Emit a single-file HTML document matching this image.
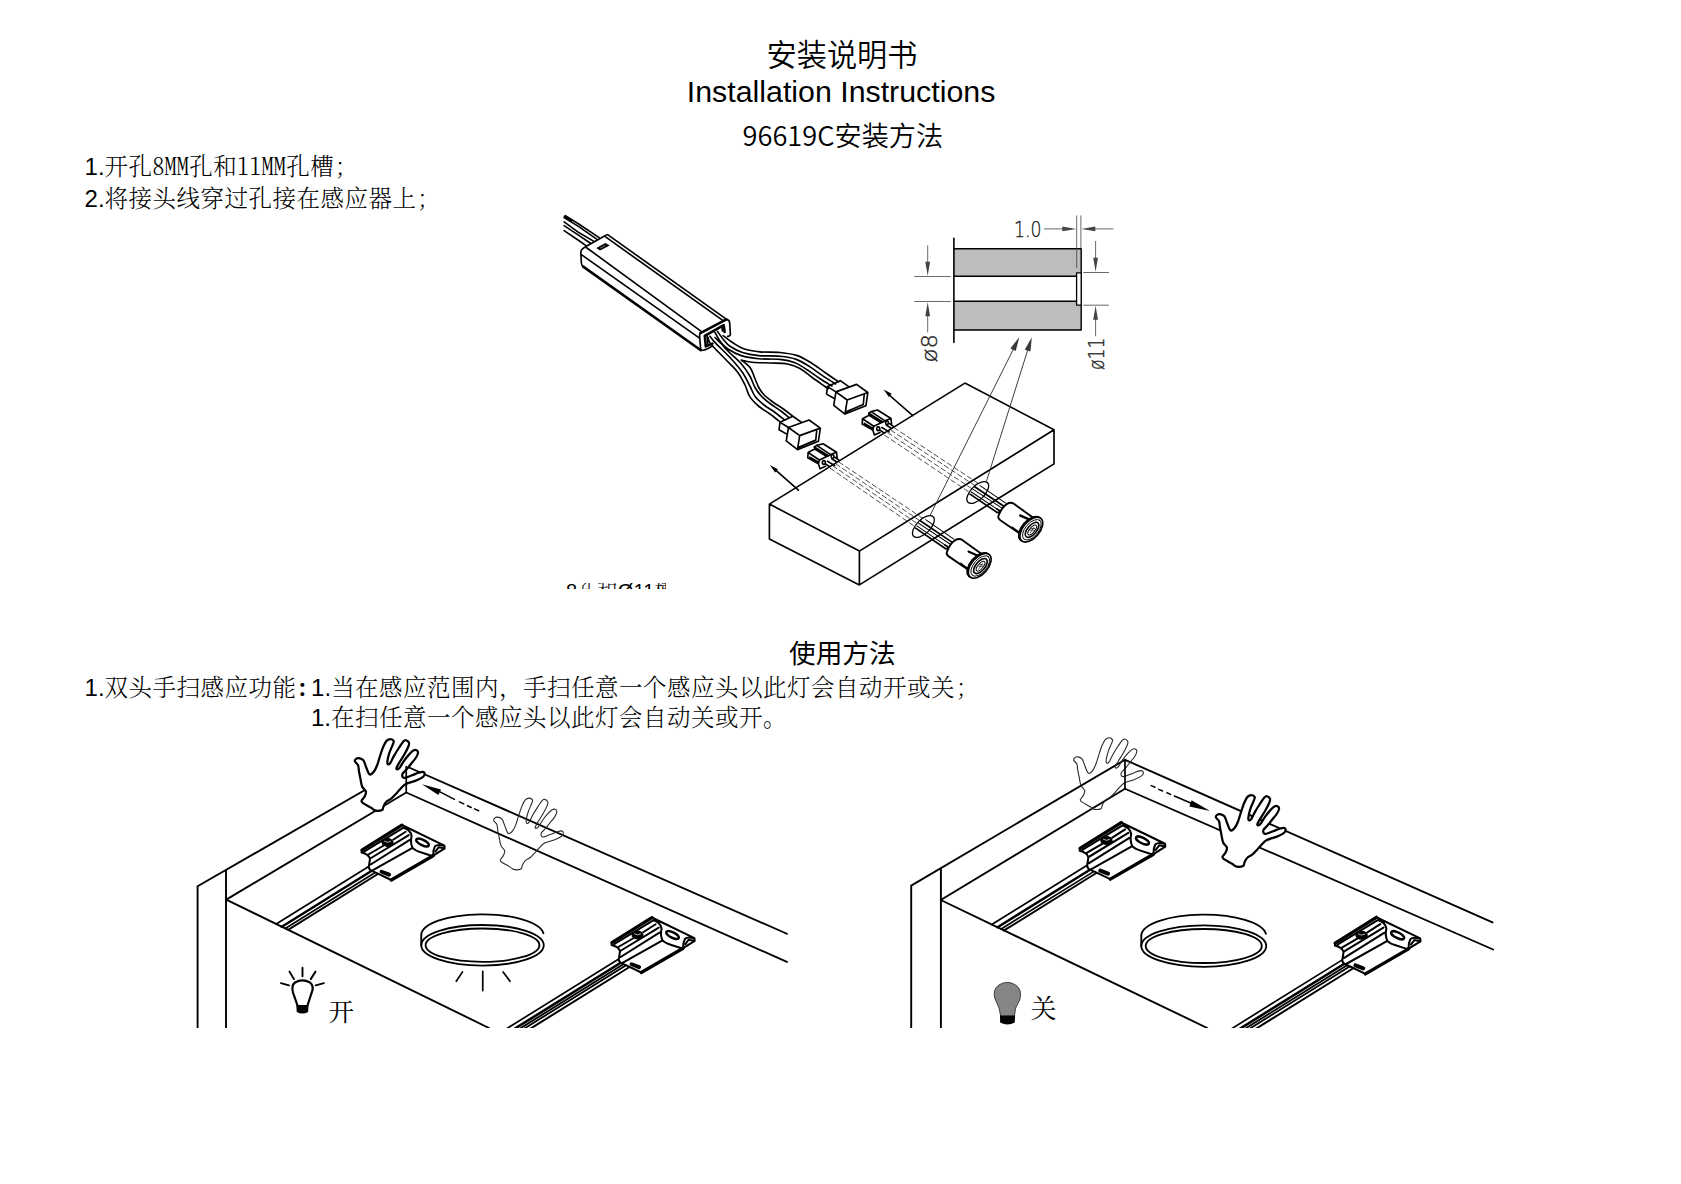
<!DOCTYPE html>
<html lang="zh-CN">
<head>
<meta charset="utf-8">
<title>安装说明书 Installation Instructions</title>
<style>
html,body{margin:0;padding:0;background:#fff;}
body{width:1681px;height:1184px;position:relative;overflow:hidden;color:#000;}
.t{position:absolute;white-space:nowrap;line-height:1;margin:0;}
.hei{font-family:"Liberation Sans","Noto Sans CJK SC",sans-serif;font-weight:300;}
.song{font-family:"Liberation Serif","Noto Serif CJK SC",serif;font-weight:300;}
.body{font-size:23.5px;letter-spacing:0.5px;}
.body .ar{letter-spacing:0;font-size:24px;font-weight:400;}
.ar{font-family:"Liberation Sans","Noto Sans CJK SC",sans-serif;}
.hw{font-family:"Noto Serif CJK SC",serif;font-feature-settings:"hwid";font-weight:300;}
svg{position:absolute;left:0;top:0;}
</style>
</head>
<body>
<div class="t hei" id="t1" style="left:766.5px;top:40.5px;font-size:30.2px;font-weight:350;">安装说明书</div>
<div class="t ar" id="t2" style="left:686.8px;top:76.5px;font-size:30.33px;">Installation Instructions</div>
<div class="t hei" id="t3" style="left:742.6px;top:120.6px;font-size:27.2px;font-weight:350;font-family:'Noto Sans CJK SC',sans-serif;">96619C安装方法</div>
<div class="t song body" id="t4" style="left:84.6px;top:154px;"><span class="ar">1.</span>开孔<span class="hw">8MM</span>孔和<span class="hw">11MM</span>孔槽<span class="hw">;</span></div>
<div class="t song body" id="t5" style="left:84.6px;top:185.6px;"><span class="ar">2.</span>将接头线穿过孔接在感应器上<span class="hw">;</span></div>
<div class="t hei" id="t6" style="left:789px;top:641px;font-size:26.67px;font-weight:400;">使用方法</div>
<div class="t song body" id="t7" style="left:84.6px;top:675px;"><span class="ar">1.</span>双头手扫感应功能<span class="hw" style="margin-right:2.25px;font-weight:700;">:</span><span class="ar">1.</span>当在感应范围内，手扫任意一个感应头以此灯会自动开或关<span class="hw">;</span></div>
<div class="t song body" id="t8" style="left:311px;top:706px;"><span class="ar">1.</span>在扫任意一个感应头以此灯会自动关或开。</div>
<div id="t9" style="position:absolute;left:553.5px;top:583.4px;width:112px;height:5.8px;overflow:hidden;"><div class="t" style="left:0;top:-2.2px;font-size:20px;letter-spacing:0.2px;"><span class="ar" style="position:relative;top:1.6px;">ø</span><span class="ar">8</span><span class="song">孔和</span><span class="ar">Ø11</span><span class="song">槽</span></div></div>
<svg id="art" width="1681" height="1184" viewBox="0 0 1681 1184" fill="none" stroke="#000" stroke-linecap="round" stroke-linejoin="round">
<g id="fig1">
<path d="M607.6,234.6 L726.25,319.1 M605.6,236.9 L723.8,321.2 M585.4,246.7 L604.6,236 Q606.4,234.2 608.2,235 M585.4,246.7 Q581,249.2 580.8,252.2 L581.4,263.2 Q581.6,265.6 583.6,266.9 M585.6,247 L701.2,331.3 M581,254.4 L698.8,337.6 M726.4,319.4 Q729.4,319.8 729.6,322.4 L730.4,334.4 Q730.4,336 727.6,336.4 M700.4,333.2 Q699.4,334.2 699.6,336.4 L700.6,348.4 Q701,350.6 703.4,350.2 Q707,349.6 712.6,345.8 M707.2,336.4 L707.8,343.8 M722,327.4 L722.4,331 M565.38,215.62 L579.12,224.25 L599.12,237.62 M564.12,217.5 L579.12,226.88 L596.62,239.06 M564.12,221.88 L579.12,232.81 L593.5,241.12 M564.12,225.62 L579.12,235.62 L590.06,243 M564.12,230.62 L579.12,240.75 L586,245.62 M564.44,216.25 L571.62,220.62 M723.12,335.62 C724.68,336.77 729.06,340.31 732.5,342.5 C735.94,344.69 739.17,347.19 743.75,348.75 C748.33,350.31 753.96,351.25 760,351.88 C766.04,352.5 773.75,351.88 780,352.5 C786.25,353.12 792.08,353.75 797.5,355.62 C802.92,357.5 807.92,360.94 812.5,363.75 C817.08,366.56 820.62,369.48 825,372.5 C829.38,375.52 836.46,380.32 838.75,381.88 M717.5,331.5 C718.54,332.92 721.67,337.54 723.75,340 C725.83,342.46 726.88,344.17 730,346.25 C733.12,348.33 737.71,350.94 742.5,352.5 C747.29,354.06 752.5,355 758.75,355.62 C765,356.25 773.75,355.62 780,356.25 C786.25,356.88 791.25,357.61 796.25,359.38 C801.25,361.15 805.62,364.17 810,366.88 C814.38,369.59 818.23,372.77 822.5,375.62 C826.77,378.47 833.43,382.6 835.62,384 M715,332.5 C715.94,334.06 718.54,339.17 720.62,341.88 C722.7,344.59 724.06,346.46 727.5,348.75 C730.94,351.04 736.04,353.95 741.25,355.62 C746.46,357.29 752.29,358.12 758.75,358.75 C765.21,359.38 773.96,358.71 780,359.38 C786.04,360.05 790.42,360.98 795,362.75 C799.58,364.52 803.33,367.33 807.5,370 C811.67,372.67 815.94,376.08 820,378.75 C824.06,381.42 829.9,384.79 831.88,386 M741.25,360 C743.12,360.38 747.71,361.75 752.5,362.25 C757.29,362.75 764.17,362.71 770,363 C775.83,363.29 782.5,363.08 787.5,364 C792.5,364.92 795.83,366.21 800,368.5 C804.17,370.79 808.33,374.75 812.5,377.75 C816.67,380.75 822.4,384.67 825,386.5 C827.6,388.33 827.6,388.38 828.12,388.75 M708.12,337.5 C708.54,338.54 707.81,340.21 710.62,343.75 C713.43,347.29 720.52,354.06 725,358.75 C729.48,363.44 734.17,367.5 737.5,371.88 C740.83,376.25 742.92,380.83 745,385 C747.08,389.17 747.71,393.34 750,396.88 C752.29,400.42 755.42,403.4 758.75,406.25 C762.08,409.1 766.36,411.33 770,414 C773.64,416.67 778.85,420.88 780.62,422.25 M710,336.25 C710.94,337.39 712.29,339.58 715.62,343.12 C718.95,346.66 725.52,352.6 730,357.5 C734.48,362.4 739.17,367.71 742.5,372.5 C745.83,377.29 747.92,382.29 750,386.25 C752.08,390.21 752.71,393.17 755,396.25 C757.29,399.33 760.42,402.04 763.75,404.75 C767.08,407.46 771.46,409.92 775,412.5 C778.54,415.08 783.33,418.96 785,420.25 M715,337.5 C716.04,338.54 719.06,341.46 721.25,343.75 C723.44,346.04 724.79,347.92 728.12,351.25 C731.45,354.58 737.6,359.58 741.25,363.75 C744.9,367.92 747.71,372.29 750,376.25 C752.29,380.21 753.12,384.21 755,387.5 C756.88,390.79 758.75,393.33 761.25,396 C763.75,398.67 766.67,400.96 770,403.5 C773.33,406.04 778.08,408.92 781.25,411.25 C784.42,413.58 787.71,416.46 789,417.5 M741.25,360 C742.71,361.25 747.71,364.38 750,367.5 C752.29,370.62 753.54,375.42 755,378.75 C756.46,382.08 757.25,384.83 758.75,387.5 C760.25,390.17 761.71,392.38 764,394.75 C766.29,397.12 769.21,399.33 772.5,401.75 C775.79,404.17 780.42,406.88 783.75,409.25 C787.08,411.62 791.04,414.88 792.5,416 M788.44,427.5 L780,422.19 L792.81,416.25 L801.25,422.19 M780,422.19 L779.06,429.69 L787.19,434.38 M788.44,427.5 L809.06,420 L820.31,428.12 L799.69,435.62Z M788.44,427.5 L786.25,440.94 L797.5,449.69 L799.69,435.62 M820.31,428.12 L818.44,441.25 L797.5,449.69 M816.75,429.88 L815.75,440.12 L798.62,447.38 M835.94,391.9 L827.5,386.59 L840.31,380.65 L848.75,386.59 M827.5,386.59 L826.56,394.09 L834.69,398.78 M835.94,391.9 L856.56,384.4 L867.81,392.52 L847.19,400.02Z M835.94,391.9 L833.75,405.34 L845,414.09 L847.19,400.02 M867.81,392.52 L865.94,405.65 L845,414.09 M864.25,394.28 L863.25,404.52 L846.12,411.78 M862.5,418.75 L869.06,415.31 L881.25,422.81 L873.75,426.25Z M862.5,418.75 L862.19,424.06 L872.81,430 L873.75,426.25 M864.38,423.44 L872.5,428.12 M869.06,415.31 L868.75,413.12 L871.12,411.62 M871.12,411.62 L877.5,410 L890.94,418.44 L885,420.88 L871.12,411.62 M890.94,418.44 L891.56,424.06 M872.81,430 L874.38,435 L880,432.5 M873.75,426.25 L881.25,422.81 L884.38,421.25 M876.75,428.75 a1.5,1.9 0 1,0 3,0 a1.5,1.9 0 1,0 -3,0 M885.6,422.81 a1.4,1.8 0 1,0 2.8,0 a1.4,1.8 0 1,0 -2.8,0 M879.69,430 L884.38,433.12 M881.88,427.5 L889.06,431.88 M886.25,425 L891.56,428.44 M889.06,423.44 L894.06,426.88 M808.1,452.5 L814.66,449.06 L826.85,456.56 L819.35,460Z M808.1,452.5 L807.79,457.81 L818.41,463.75 L819.35,460 M809.98,457.19 L818.1,461.87 M814.66,449.06 L814.35,446.87 L816.72,445.37 M816.72,445.37 L823.1,443.75 L836.54,452.19 L830.6,454.63 L816.72,445.37 M836.54,452.19 L837.16,457.81 M818.41,463.75 L819.98,468.75 L825.6,466.25 M819.35,460 L826.85,456.56 L829.98,455 M822.35,462.5 a1.5,1.9 0 1,0 3,0 a1.5,1.9 0 1,0 -3,0 M831.2,456.56 a1.4,1.8 0 1,0 2.8,0 a1.4,1.8 0 1,0 -2.8,0 M825.29,463.75 L829.98,466.87 M827.48,461.25 L834.66,465.63 M831.85,458.75 L837.16,462.19 M834.66,457.19 L839.66,460.63 M769.4,504.1 L964.9,383.1 L1054,429.7 L859.4,551.1 L769.4,504.1 L769.4,538.9 L859.4,584.9 L859.4,551.1 M859.4,584.9 L1054,463.9 L1054,429.7 M912.8,415.6 L888,394 M798.4,490.2 L774,468.6" stroke-width="1.65"/>
<path d="M583.2,266.6 L700.8,350.2 M700.4,333.2 L726.4,319.4 M712.4,343.6 L705.8,346.4 L704.8,335.8 L723.7,325.2 L724.6,332" stroke-width="2.6"/>
<path d="M596.3,248.1 L605.4,243.1 L609.75,245.6 L600,250.6Z" fill="#000" stroke="none"/>
<path d="M600.5,248 L604.8,245.7" stroke="#fff" stroke-width="0.5"/>
<path d="M869.12,413.5 L882.25,421.88 M814.72,447.25 L827.85,455.63" stroke-width="2"/>
<path d="M883.60,389.40 L891.70,393.85 L888.90,396.97Z" fill="#000" stroke="none"/>
<path d="M769.80,465.00 L777.94,469.37 L775.16,472.53Z" fill="#000" stroke="none"/>
<path d="M838.75,461.9 L924.4,519.4 M835.6,463.75 L920.6,521.25 M832.5,465.6 L917.5,523.75 M830,468.1 L914.4,526.25 M893.75,427.5 L978.75,483.75 M890.6,430 L975,485.6 M887.5,432.5 L971.9,488.75 M884.4,435 L968.75,491.9" stroke="#222" stroke-width="0.8" stroke-dasharray="5.5 2.5" stroke-linecap="butt"/>
<path d="M1019.30,337.20 L1015.72,351.06 L1010.35,348.38Z" fill="#3a3a3a" stroke="none"/>
<path d="M1031.80,337.20 L1030.46,351.45 L1024.73,349.65Z" fill="#3a3a3a" stroke="none"/>
<ellipse cx="923.4" cy="526.5" rx="13.8" ry="6.85" transform="rotate(-45 923.4 526.5)" stroke-width="1.3"/>
<path d="M945,545 L948.12,547 L946.88,548.75 M976.88,555 L980.62,557.19" stroke-width="1.65"/>
<path d="M980.94,553.44 L961.88,539.69 Q958.88,538 955,540.31 Q949.69,544.06 947,551.56 Q945.75,554.5 948.75,556.38 L968.12,569.69 M968.44,551.38 L976.88,555 M968.75,552 L976.88,555.5 M960.62,563.62 L968.12,569.06 M960.94,564.25 L967.81,569.38" stroke-width="1.9"/>
<path d="M925.62,519.69 L953.75,539.06" stroke-width="1.05"/>
<path d="M920.62,520.94 L951.56,541.88" stroke-width="1.7"/>
<path d="M918.44,523.12 L950,544.06" stroke-width="1.05"/>
<path d="M916.88,525.94 L945.94,545.62" stroke-width="1.05"/>
<path d="M915.62,528.12 L945.62,548.75" stroke-width="1.7"/>
<g transform="translate(979.72 565.81) rotate(-49.5)"><ellipse cx="-0.3" cy="-1.4" rx="14.6" ry="8.1" fill="#fff" stroke-width="1.7"/><ellipse cx="0" cy="0" rx="14.7" ry="8.2" fill="#fff" stroke-width="1.7"/><ellipse cx="0.3" cy="0.5" rx="12.3" ry="6.5" stroke-width="0.9"/><ellipse cx="0.3" cy="0.7" rx="9.1" ry="4.5" stroke-width="1.6"/><ellipse cx="0.3" cy="0.9" rx="6" ry="2.5" stroke-width="1"/><path d="M-3.2,1.3 L3.4,0.5 M-1,-0.4 L1.4,2.4 M1,-0.6 L3,1.8" stroke-width="0.6"/></g>
<ellipse cx="977.75" cy="492.5" rx="13.8" ry="6.85" transform="rotate(-45 977.75 492.5)" stroke-width="1.3"/>
<path d="M996.6,508.8 L999.72,510.8 L998.48,512.55 M1028.48,518.8 L1032.22,520.99" stroke-width="1.65"/>
<path d="M1032.54,517.24 L1013.48,503.49 Q1010.48,501.8 1006.6,504.11 Q1001.29,507.86 998.6,515.36 Q997.35,518.3 1000.35,520.18 L1019.72,533.49 M1020.04,515.18 L1028.48,518.8 M1020.35,515.8 L1028.48,519.3 M1012.22,527.42 L1019.72,532.86 M1012.54,528.05 L1019.41,533.18" stroke-width="1.9"/>
<path d="M980.02,485.69 L1005.35,502.86" stroke-width="1.05"/>
<path d="M975.02,486.94 L1003.16,505.68" stroke-width="1.7"/>
<path d="M972.84,489.12 L1001.6,507.86" stroke-width="1.05"/>
<path d="M971.28,491.94 L997.54,509.42" stroke-width="1.05"/>
<path d="M970.02,494.12 L997.22,512.55" stroke-width="1.7"/>
<g transform="translate(1031.32 529.61) rotate(-49.5)"><ellipse cx="-0.3" cy="-1.4" rx="14.6" ry="8.1" fill="#fff" stroke-width="1.7"/><ellipse cx="0" cy="0" rx="14.7" ry="8.2" fill="#fff" stroke-width="1.7"/><ellipse cx="0.3" cy="0.5" rx="12.3" ry="6.5" stroke-width="0.9"/><ellipse cx="0.3" cy="0.7" rx="9.1" ry="4.5" stroke-width="1.6"/><ellipse cx="0.3" cy="0.9" rx="6" ry="2.5" stroke-width="1"/><path d="M-3.2,1.3 L3.4,0.5 M-1,-0.4 L1.4,2.4 M1,-0.6 L3,1.8" stroke-width="0.6"/></g>
<path d="M930,515.6 L1015,346 M986.25,481.9 L1029,346" stroke="#333" stroke-width="0.95"/>
<rect x="953.9" y="248.7" width="127.4" height="27.5" fill="#bdbdbd" stroke="none"/>
<rect x="953.9" y="301.3" width="127.4" height="28.7" fill="#bdbdbd" stroke="none"/>
<path d="M953.9,238.4 V342.4" stroke-width="1.6"/>
<path d="M954,248.8 H1081.2 V330 H954 M954,276.2 H1076.6 M954,301.2 H1076.6" stroke-width="1.4" stroke-linecap="butt"/>
<rect x="1076.6" y="272.9" width="4.6" height="32.2" fill="#fff" stroke-width="1.3"/>
<path d="M1076.7,215.4 V268 M1080.9,215.4 V248 M1044,228.9 H1068 M1113.5,228.9 H1090 M914.3,276.5 H950.8 M914.3,301.5 H950.8 M927.7,245.3 V266 M927.7,332.4 V311 M1083.2,272.5 H1109 M1083.2,305.2 H1109 M1095.6,241 V262 M1095.6,336.2 V315" stroke="#444" stroke-width="0.8" stroke-linecap="butt"/>
<path d="M1076.30,228.90 L1062.30,231.30 L1062.30,226.50Z" fill="#444" stroke="none"/>
<path d="M1081.30,228.90 L1095.30,226.50 L1095.30,231.30Z" fill="#444" stroke="none"/>
<path d="M927.70,275.80 L925.30,261.80 L930.10,261.80Z" fill="#444" stroke="none"/>
<path d="M927.70,302.20 L930.10,316.20 L925.30,316.20Z" fill="#444" stroke="none"/>
<path d="M1095.60,271.80 L1093.20,257.80 L1098.00,257.80Z" fill="#444" stroke="none"/>
<path d="M1095.60,305.80 L1098.00,319.80 L1093.20,319.80Z" fill="#444" stroke="none"/>
<text x="1014" y="237.4" font-size="22" font-family="DejaVu Sans, Liberation Sans, sans-serif" font-weight="200" fill="#222" stroke="#222" stroke-width="0.35" textLength="27.5" lengthAdjust="spacingAndGlyphs">1.0</text>
<text transform="translate(936.6 362.4) rotate(-90)" font-size="22" font-family="DejaVu Sans, Liberation Sans, sans-serif" font-weight="200" fill="#222" stroke="#222" stroke-width="0.35" textLength="28.5" lengthAdjust="spacingAndGlyphs">ø8</text>
<text transform="translate(1104.4 370) rotate(-90)" font-size="22" font-family="DejaVu Sans, Liberation Sans, sans-serif" font-weight="200" fill="#222" stroke="#222" stroke-width="0.35" textLength="32.5" lengthAdjust="spacingAndGlyphs">ø11</text>
</g>
<defs><clipPath id="clipB"><rect x="0" y="700" width="1681" height="327.9"/></clipPath></defs>
<g id="fig2" clip-path="url(#clipB)">
<path d="M197.6,886.3 V1030 M226.0,870.4 V1030 M197.6,886.3 L406.25,766.25 M226.25,899.6 L406.25,792.5 M226.25,899.6 L489,1028 M406.25,766.25 L786.9,933.75 M406.25,792.5 L786.9,961.9" stroke-width="1.9"/>
<path d="M368.77,866.44 L276.21,924.01" stroke-width="1.7"/>
<path d="M375.02,868.75 L281.79,926.74" stroke-width="2.5"/>
<path d="M381.27,868.75 L285.29,928.45" stroke-width="1.6"/>
<path d="M386.27,868.75 L288.09,929.82" stroke-width="1.9"/>
<path d="M361.9,850 L401.9,825 L444.4,845.62 L444.71,848.44 L433.15,855.62 L391.27,880 L376.9,873.12 L371.27,870.62 L368.77,866.88 L370.02,858.75 L368.15,855 L361.59,852.5Z" fill="#fff" stroke="none"/>
<path d="M401.9,825 L444.4,845.62 L444.71,848.44 L433.15,855.62 M391.27,880 L376.9,873.12 M361.9,850 L361.59,852.5 Q368.46,854.06 370.02,858.75 L368.77,866.88 Q369.09,870 371.9,870.94 L376.9,873.12 M364.09,851.56 L403.15,827.81 M368.77,854.25 L383.77,845.5 M393.15,839.75 L405.65,831.75 M370.65,858.25 L408.77,835.12 M370.65,864.5 L409.4,840.12 M372.52,870.44 L412.52,847.94 M403.15,827.81 Q410.34,829.69 411.59,835.94 Q410.02,842.5 412.52,847.94 Q415.02,850.62 420.65,852.31 L430.65,855.5 L433.15,855.62 M433.15,855.62 Q432.84,850 435.02,846.25 Q437.52,843.88 444.4,845.94 M435.34,851.56 L438.77,847.19 L443.15,848.12" stroke-width="2.00"/>
<path d="M361.9,850.12 L401.9,825.12 M433.15,855.75 L391.27,880" stroke-width="3.30"/>
<ellipse cx="422.52" cy="842.5" rx="6.90" ry="2.70" transform="rotate(27 422.52 842.5)" stroke-width="2.40"/>
<ellipse cx="387.52" cy="842.5" rx="6.00" ry="4.40" fill="#000" stroke="none"/>
<path d="M384.52,841.30 q3.00,2.20 6.00,0.20" stroke="#fff" stroke-width="0.7"/>
<path d="M381.59,871.75 L389.09,874.62" stroke-width="4.00"/>
<path d="M618.77,958.94 L499.5,1033.13" stroke-width="1.7"/>
<path d="M623.15,961.25 L504.03,1035.34" stroke-width="2.6"/>
<path d="M628.15,961.25 L506.83,1036.71" stroke-width="1.8"/>
<path d="M632.52,961.25 L509.28,1037.91" stroke-width="1.8"/>
<path d="M638.77,961.25 L512.78,1039.62" stroke-width="2.0"/>
<path d="M611.9,942.5 L651.9,917.5 L694.4,938.12 L694.71,940.94 L683.15,948.12 L641.27,972.5 L626.9,965.62 L621.27,963.12 L618.77,959.38 L620.02,951.25 L618.15,947.5 L611.59,945Z" fill="#fff" stroke="none"/>
<path d="M651.9,917.5 L694.4,938.12 L694.71,940.94 L683.15,948.12 M641.27,972.5 L626.9,965.62 M611.9,942.5 L611.59,945 Q618.46,946.56 620.02,951.25 L618.77,959.38 Q619.09,962.5 621.9,963.44 L626.9,965.62 M614.09,944.06 L653.15,920.31 M618.77,946.75 L633.77,938 M643.15,932.25 L655.65,924.25 M620.65,950.75 L658.77,927.62 M620.65,957 L659.4,932.62 M622.52,962.94 L662.52,940.44 M653.15,920.31 Q660.34,922.19 661.59,928.44 Q660.02,935 662.52,940.44 Q665.02,943.12 670.65,944.81 L680.65,948 L683.15,948.12 M683.15,948.12 Q682.84,942.5 685.02,938.75 Q687.52,936.38 694.4,938.44 M685.34,944.06 L688.77,939.69 L693.15,940.62" stroke-width="2.00"/>
<path d="M611.9,942.62 L651.9,917.62 M683.15,948.25 L641.27,972.5" stroke-width="3.30"/>
<ellipse cx="672.52" cy="935.0" rx="6.90" ry="2.70" transform="rotate(27 672.52 935.0)" stroke-width="2.40"/>
<ellipse cx="637.52" cy="935.0" rx="6.00" ry="4.40" fill="#000" stroke="none"/>
<path d="M634.52,933.80 q3.00,2.20 6.00,0.20" stroke="#fff" stroke-width="0.7"/>
<path d="M631.59,964.25 L639.09,967.12" stroke-width="4.00"/>
<ellipse cx="482.5" cy="945.25" rx="61.25" ry="20.30" fill="#fff" stroke-width="1.85"/>
<ellipse cx="482.5" cy="945.15" rx="56.90" ry="16.70" stroke-width="1.85"/>
<path d="M421.25,945.25 V934.65 A61.25,20.90 0 0 1 543.45,933.25" stroke-width="1.85"/>
<path d="M911.2,885.6 V1030 M940.9,868.2 V1030 M911.2,885.6 L1125,759.8 M940.75,900 L1125,788.75 M940.75,900 L1207.3,1028 M1125,759.8 L1492.5,922.4 M1125,788.75 L1493.1,949.5" stroke-width="1.9"/>
<path d="M1087.13,865.18 L991.76,924.5" stroke-width="1.7"/>
<path d="M1093.57,867.56 L997.56,927.28" stroke-width="2.5"/>
<path d="M1100.01,867.56 L1001.19,929.02" stroke-width="1.6"/>
<path d="M1105.16,867.56 L1004.1,930.42" stroke-width="1.9"/>
<path d="M1080.05,848.25 L1121.25,822.5 L1165.03,843.74 L1165.35,846.64 L1153.44,854.04 L1110.31,879.15 L1095.5,872.07 L1089.71,869.49 L1087.13,865.63 L1088.42,857.26 L1086.49,853.4 L1079.73,850.83Z" fill="#fff" stroke="none"/>
<path d="M1121.25,822.5 L1165.03,843.74 L1165.35,846.64 L1153.44,854.04 M1110.31,879.15 L1095.5,872.07 M1080.05,848.25 L1079.73,850.83 Q1086.81,852.43 1088.42,857.26 L1087.13,865.63 Q1087.45,868.85 1090.35,869.82 L1095.5,872.07 M1082.3,849.86 L1122.54,825.4 M1087.13,852.63 L1102.58,843.62 M1112.24,837.69 L1125.11,829.45 M1089.06,856.75 L1128.33,832.93 M1089.06,863.18 L1128.97,838.08 M1090.99,869.3 L1132.19,846.13 M1122.54,825.4 Q1129.94,827.33 1131.23,833.77 Q1129.62,840.52 1132.19,846.13 Q1134.77,848.89 1140.56,850.63 L1150.86,853.91 L1153.44,854.04 M1153.44,854.04 Q1153.12,848.25 1155.37,844.39 Q1157.94,841.94 1165.03,844.07 M1155.69,849.86 L1159.23,845.35 L1163.74,846.32" stroke-width="2.06"/>
<path d="M1080.05,848.38 L1121.25,822.63 M1153.44,854.17 L1110.31,879.15" stroke-width="3.40"/>
<ellipse cx="1142.49" cy="840.52" rx="7.11" ry="2.78" transform="rotate(27 1142.49 840.52)" stroke-width="2.47"/>
<ellipse cx="1106.44" cy="840.52" rx="6.18" ry="4.53" fill="#000" stroke="none"/>
<path d="M1103.35,839.28 q3.09,2.27 6.18,0.21" stroke="#fff" stroke-width="0.7"/>
<path d="M1100.33,870.65 L1108.05,873.61" stroke-width="4.12"/>
<path d="M1342.28,959.88 L1221.67,1034.9" stroke-width="1.7"/>
<path d="M1346.79,962.26 L1226.37,1037.16" stroke-width="2.6"/>
<path d="M1351.94,962.26 L1229.28,1038.55" stroke-width="1.8"/>
<path d="M1356.44,962.26 L1231.82,1039.77" stroke-width="1.8"/>
<path d="M1362.88,962.26 L1235.45,1041.52" stroke-width="2.0"/>
<path d="M1335.2,942.95 L1376.4,917.2 L1420.18,938.44 L1420.5,941.34 L1408.59,948.74 L1365.46,973.85 L1350.65,966.77 L1344.86,964.19 L1342.28,960.33 L1343.57,951.96 L1341.64,948.1 L1334.88,945.53Z" fill="#fff" stroke="none"/>
<path d="M1376.4,917.2 L1420.18,938.44 L1420.5,941.34 L1408.59,948.74 M1365.46,973.85 L1350.65,966.77 M1335.2,942.95 L1334.88,945.53 Q1341.96,947.13 1343.57,951.96 L1342.28,960.33 Q1342.6,963.55 1345.5,964.52 L1350.65,966.77 M1337.45,944.56 L1377.69,920.1 M1342.28,947.33 L1357.73,938.32 M1367.39,932.39 L1380.26,924.15 M1344.21,951.45 L1383.48,927.63 M1344.21,957.88 L1384.12,932.78 M1346.14,964 L1387.34,940.83 M1377.69,920.1 Q1385.09,922.03 1386.38,928.47 Q1384.77,935.23 1387.34,940.83 Q1389.92,943.59 1395.71,945.33 L1406.01,948.62 L1408.59,948.74 M1408.59,948.74 Q1408.27,942.95 1410.52,939.09 Q1413.09,936.64 1420.18,938.77 M1410.84,944.56 L1414.38,940.05 L1418.89,941.02" stroke-width="2.06"/>
<path d="M1335.2,943.08 L1376.4,917.33 M1408.59,948.87 L1365.46,973.85" stroke-width="3.40"/>
<ellipse cx="1397.64" cy="935.23" rx="7.11" ry="2.78" transform="rotate(27 1397.64 935.23)" stroke-width="2.47"/>
<ellipse cx="1361.59" cy="935.23" rx="6.18" ry="4.53" fill="#000" stroke="none"/>
<path d="M1358.50,933.99 q3.09,2.27 6.18,0.21" stroke="#fff" stroke-width="0.7"/>
<path d="M1355.48,965.35 L1363.2,968.31" stroke-width="4.12"/>
<ellipse cx="1203.75" cy="946.1" rx="62.48" ry="20.71" fill="#fff" stroke-width="1.85"/>
<ellipse cx="1203.75" cy="946.0" rx="58.04" ry="17.03" stroke-width="1.85"/>
<path d="M1141.28,946.10 V935.27 A62.48,21.31 0 0 1 1265.92,933.87" stroke-width="1.85"/>
<path d="M1232.5,864 C1230.73,862.91 1226.05,860.57 1224.38,859.38 C1222.71,858.19 1222.29,858.03 1222.5,856.88 C1222.71,855.73 1224.89,854.06 1225.62,852.5 C1226.35,850.94 1227.3,849.17 1226.88,847.5 C1226.46,845.83 1224.06,844.79 1223.12,842.5 C1222.18,840.21 1221.77,836.25 1221.25,833.75 C1220.73,831.25 1220.37,829.58 1220,827.5 C1219.63,825.42 1219.74,822.92 1219.06,821.25 C1218.38,819.58 1216.3,818.54 1215.94,817.5 C1215.58,816.46 1216.2,815.57 1216.88,815 C1217.56,814.43 1218.75,813.85 1220,814.06 C1221.25,814.27 1223.23,814.84 1224.38,816.25 C1225.53,817.66 1226.05,820.42 1226.88,822.5 C1227.71,824.58 1228.65,827.4 1229.38,828.75 C1230.11,830.1 1230.31,830.83 1231.25,830.62 C1232.19,830.41 1233.86,829.06 1235,827.5 C1236.14,825.94 1237.08,823.96 1238.12,821.25 C1239.16,818.54 1240.21,814.38 1241.25,811.25 C1242.29,808.12 1243.34,804.89 1244.38,802.5 C1245.42,800.11 1246.36,798.13 1247.5,796.88 C1248.64,795.63 1250.05,795 1251.25,795 C1252.45,795 1254.27,795.94 1254.69,796.88 C1255.11,797.82 1254.43,798.75 1253.75,800.62 C1253.07,802.49 1251.45,805.72 1250.62,808.12 C1249.79,810.52 1249.11,813.12 1248.75,815 C1248.39,816.88 1248.23,818.5 1248.44,819.38 C1248.65,820.26 1249.43,820.52 1250,820.31 C1250.57,820.1 1251.05,819.52 1251.88,818.12 C1252.71,816.72 1253.65,814.27 1255,811.88 C1256.35,809.49 1258.44,806.15 1260,803.75 C1261.56,801.35 1263.23,798.75 1264.38,797.5 C1265.53,796.25 1265.94,796.04 1266.88,796.25 C1267.82,796.46 1269.58,797.71 1270,798.75 C1270.42,799.79 1270.11,800.62 1269.38,802.5 C1268.65,804.38 1267.08,807.4 1265.62,810 C1264.16,812.6 1261.97,815.83 1260.62,818.12 C1259.27,820.41 1257.92,822.55 1257.5,823.75 C1257.08,824.95 1257.6,825.31 1258.12,825.31 C1258.64,825.31 1259.47,825.15 1260.62,823.75 C1261.77,822.35 1263.44,819.07 1265,816.88 C1266.56,814.69 1268.44,812.34 1270,810.62 C1271.56,808.9 1273.13,807.29 1274.38,806.56 C1275.63,805.83 1276.72,805.88 1277.5,806.25 C1278.28,806.62 1279.16,807.5 1279.06,808.75 C1278.96,810 1278.08,811.88 1276.88,813.75 C1275.68,815.62 1273.24,818.28 1271.88,820 C1270.53,821.72 1269.79,822.81 1268.75,824.06 C1267.71,825.31 1266.5,826.51 1265.62,827.5 C1264.73,828.49 1263.75,829.06 1263.44,830 C1263.13,830.94 1263.28,832.5 1263.75,833.12 C1264.22,833.75 1264.69,834.06 1266.25,833.75 C1267.81,833.44 1270.93,832.08 1273.12,831.25 C1275.31,830.42 1277.61,829.32 1279.38,828.75 C1281.15,828.18 1282.71,827.6 1283.75,827.81 C1284.79,828.02 1285.62,829.12 1285.62,830 C1285.62,830.88 1285.31,831.97 1283.75,833.12 C1282.19,834.27 1279.06,835.73 1276.25,836.88 C1273.44,838.03 1269.38,838.65 1266.88,840 C1264.38,841.35 1262.92,843.33 1261.25,845 C1259.58,846.67 1258.34,848.44 1256.88,850 C1255.42,851.56 1254.06,853.13 1252.5,854.38 C1250.94,855.63 1248.75,856.36 1247.5,857.5 C1246.25,858.64 1245.57,860.17 1245,861.25 C1244.43,862.33 1244.37,863.22 1244.06,864 C1243.75,864.78 1244,865.48 1243.12,865.94 C1242.23,866.4 1240.1,866.75 1238.75,866.75 C1237.4,866.75 1236.04,866.4 1235,865.94 C1233.96,865.48 1234.27,865.09 1232.5,864Z" fill="#fff" stroke="#000" stroke-width="2.25"/>
<path d="M510.3,867.1 C508.53,866.01 503.84,863.67 502.17,862.48 C500.5,861.29 500.09,861.13 500.3,859.98 C500.51,858.83 502.69,857.16 503.42,855.6 C504.15,854.04 505.09,852.27 504.67,850.6 C504.25,848.93 501.86,847.89 500.92,845.6 C499.98,843.31 499.57,839.35 499.05,836.85 C498.53,834.35 498.17,832.68 497.8,830.6 C497.44,828.52 497.54,826.02 496.86,824.35 C496.18,822.68 494.11,821.64 493.74,820.6 C493.38,819.56 493.99,818.67 494.67,818.1 C495.35,817.53 496.55,816.95 497.8,817.16 C499.05,817.37 501.03,817.94 502.17,819.35 C503.31,820.76 503.84,823.52 504.67,825.6 C505.5,827.68 506.44,830.5 507.17,831.85 C507.9,833.21 508.11,833.94 509.05,833.73 C509.99,833.52 511.65,832.16 512.8,830.6 C513.94,829.04 514.88,827.06 515.92,824.35 C516.96,821.64 518.01,817.48 519.05,814.35 C520.09,811.23 521.13,808 522.17,805.6 C523.21,803.21 524.15,801.23 525.3,799.98 C526.45,798.73 527.85,798.1 529.05,798.1 C530.25,798.1 532.07,799.04 532.49,799.98 C532.91,800.92 532.23,801.86 531.55,803.73 C530.87,805.61 529.25,808.84 528.42,811.23 C527.59,813.62 526.91,816.23 526.55,818.1 C526.19,819.98 526.03,821.6 526.24,822.48 C526.45,823.37 527.23,823.62 527.8,823.41 C528.37,823.2 528.84,822.63 529.67,821.23 C530.5,819.83 531.44,817.38 532.8,814.98 C534.15,812.58 536.24,809.25 537.8,806.85 C539.36,804.45 541.02,801.85 542.17,800.6 C543.31,799.35 543.73,799.14 544.67,799.35 C545.61,799.56 547.38,800.81 547.8,801.85 C548.22,802.89 547.9,803.73 547.17,805.6 C546.44,807.48 544.88,810.5 543.42,813.1 C541.96,815.71 539.77,818.94 538.42,821.23 C537.07,823.52 535.72,825.65 535.3,826.85 C534.88,828.05 535.4,828.41 535.92,828.41 C536.44,828.41 537.27,828.25 538.42,826.85 C539.57,825.45 541.24,822.17 542.8,819.98 C544.36,817.79 546.24,815.45 547.8,813.73 C549.36,812.01 550.92,810.39 552.17,809.66 C553.42,808.93 554.52,808.99 555.3,809.35 C556.08,809.72 556.97,810.6 556.86,811.85 C556.75,813.1 555.87,814.98 554.67,816.85 C553.47,818.73 551.02,821.38 549.67,823.1 C548.32,824.82 547.59,825.91 546.55,827.16 C545.51,828.41 544.3,829.61 543.42,830.6 C542.53,831.59 541.55,832.16 541.24,833.1 C540.93,834.04 541.08,835.61 541.55,836.23 C542.02,836.86 542.49,837.16 544.05,836.85 C545.61,836.54 548.73,835.18 550.92,834.35 C553.11,833.52 555.4,832.42 557.17,831.85 C558.94,831.28 560.51,830.7 561.55,830.91 C562.59,831.12 563.42,832.21 563.42,833.1 C563.42,833.99 563.11,835.08 561.55,836.23 C559.99,837.38 556.86,838.84 554.05,839.98 C551.24,841.12 547.17,841.75 544.67,843.1 C542.17,844.45 540.72,846.43 539.05,848.1 C537.38,849.77 536.13,851.54 534.67,853.1 C533.21,854.66 531.86,856.23 530.3,857.48 C528.74,858.73 526.55,859.46 525.3,860.6 C524.05,861.75 523.37,863.27 522.8,864.35 C522.23,865.43 522.17,866.32 521.86,867.1 C521.55,867.88 521.8,868.58 520.92,869.04 C520.03,869.5 517.9,869.85 516.55,869.85 C515.2,869.85 513.84,869.5 512.8,869.04 C511.76,868.58 512.07,868.19 510.3,867.1Z" fill="none" stroke="#2a2a2a" stroke-width="1.1"/>
<path d="M1090.3,806.8 C1088.53,805.7 1083.84,803.36 1082.17,802.17 C1080.5,800.98 1080.09,800.81 1080.3,799.67 C1080.51,798.52 1082.69,796.86 1083.42,795.3 C1084.15,793.74 1085.09,791.97 1084.67,790.3 C1084.25,788.63 1081.86,787.59 1080.92,785.3 C1079.98,783.01 1079.57,779.05 1079.05,776.55 C1078.53,774.05 1078.16,772.38 1077.8,770.3 C1077.43,768.22 1077.54,765.72 1076.86,764.05 C1076.18,762.38 1074.11,761.34 1073.74,760.3 C1073.38,759.26 1073.99,758.37 1074.67,757.8 C1075.35,757.23 1076.55,756.65 1077.8,756.86 C1079.05,757.07 1081.03,757.64 1082.17,759.05 C1083.32,760.46 1083.84,763.22 1084.67,765.3 C1085.5,767.38 1086.44,770.2 1087.17,771.55 C1087.9,772.9 1088.11,773.63 1089.05,773.42 C1089.99,773.21 1091.65,771.86 1092.8,770.3 C1093.94,768.74 1094.88,766.76 1095.92,764.05 C1096.96,761.34 1098.01,757.17 1099.05,754.05 C1100.09,750.92 1101.13,747.7 1102.17,745.3 C1103.21,742.9 1104.15,740.92 1105.3,739.67 C1106.45,738.42 1107.85,737.8 1109.05,737.8 C1110.25,737.8 1112.07,738.73 1112.49,739.67 C1112.91,740.61 1112.23,741.54 1111.55,743.42 C1110.87,745.29 1109.25,748.52 1108.42,750.92 C1107.59,753.32 1106.91,755.92 1106.55,757.8 C1106.19,759.67 1106.03,761.28 1106.24,762.17 C1106.45,763.05 1107.23,763.32 1107.8,763.11 C1108.37,762.9 1108.84,762.33 1109.67,760.92 C1110.5,759.51 1111.44,757.06 1112.8,754.67 C1114.15,752.27 1116.24,748.94 1117.8,746.55 C1119.36,744.15 1121.03,741.55 1122.17,740.3 C1123.32,739.05 1123.73,738.84 1124.67,739.05 C1125.61,739.26 1127.38,740.51 1127.8,741.55 C1128.22,742.59 1127.9,743.42 1127.17,745.3 C1126.44,747.17 1124.88,750.2 1123.42,752.8 C1121.96,755.4 1119.77,758.63 1118.42,760.92 C1117.07,763.21 1115.72,765.35 1115.3,766.55 C1114.88,767.75 1115.4,768.11 1115.92,768.11 C1116.44,768.11 1117.27,767.96 1118.42,766.55 C1119.57,765.14 1121.24,761.86 1122.8,759.67 C1124.36,757.48 1126.24,755.14 1127.8,753.42 C1129.36,751.7 1130.92,750.09 1132.17,749.36 C1133.42,748.63 1134.52,748.68 1135.3,749.05 C1136.08,749.41 1136.96,750.3 1136.86,751.55 C1136.75,752.8 1135.87,754.67 1134.67,756.55 C1133.47,758.42 1131.02,761.08 1129.67,762.8 C1128.32,764.52 1127.59,765.61 1126.55,766.86 C1125.51,768.11 1124.31,769.31 1123.42,770.3 C1122.54,771.29 1121.55,771.86 1121.24,772.8 C1120.93,773.74 1121.08,775.29 1121.55,775.92 C1122.02,776.54 1122.49,776.86 1124.05,776.55 C1125.61,776.24 1128.73,774.88 1130.92,774.05 C1133.11,773.22 1135.4,772.12 1137.17,771.55 C1138.94,770.98 1140.51,770.4 1141.55,770.61 C1142.59,770.82 1143.42,771.91 1143.42,772.8 C1143.42,773.68 1143.11,774.77 1141.55,775.92 C1139.99,777.06 1136.86,778.52 1134.05,779.67 C1131.24,780.82 1127.17,781.44 1124.67,782.8 C1122.17,784.15 1120.72,786.13 1119.05,787.8 C1117.38,789.47 1116.13,791.24 1114.67,792.8 C1113.21,794.36 1111.86,795.92 1110.3,797.17 C1108.74,798.42 1106.55,799.15 1105.3,800.3 C1104.05,801.45 1103.37,802.97 1102.8,804.05 C1102.23,805.13 1102.17,806.02 1101.86,806.8 C1101.55,807.58 1101.81,808.28 1100.92,808.74 C1100.04,809.2 1097.9,809.55 1096.55,809.55 C1095.2,809.55 1093.84,809.2 1092.8,808.74 C1091.76,808.28 1092.07,807.89 1090.3,806.8Z" fill="none" stroke="#2a2a2a" stroke-width="1.1"/>
<path d="M371.5,808 C369.73,806.91 365.05,804.57 363.38,803.38 C361.71,802.19 361.29,802.03 361.5,800.88 C361.71,799.73 363.89,798.06 364.62,796.5 C365.35,794.94 366.3,793.17 365.88,791.5 C365.46,789.83 363.06,788.79 362.12,786.5 C361.18,784.21 360.77,780.25 360.25,777.75 C359.73,775.25 359.37,773.58 359,771.5 C358.63,769.42 358.74,766.92 358.06,765.25 C357.38,763.58 355.3,762.54 354.94,761.5 C354.58,760.46 355.2,759.57 355.88,759 C356.56,758.43 357.75,757.85 359,758.06 C360.25,758.27 362.23,758.84 363.38,760.25 C364.53,761.66 365.05,764.42 365.88,766.5 C366.71,768.58 367.65,771.4 368.38,772.75 C369.11,774.1 369.31,774.83 370.25,774.62 C371.19,774.41 372.86,773.06 374,771.5 C375.14,769.94 376.08,767.96 377.12,765.25 C378.16,762.54 379.21,758.38 380.25,755.25 C381.29,752.12 382.34,748.89 383.38,746.5 C384.42,744.11 385.36,742.13 386.5,740.88 C387.64,739.63 389.05,739 390.25,739 C391.45,739 393.27,739.94 393.69,740.88 C394.11,741.82 393.43,742.75 392.75,744.62 C392.07,746.49 390.45,749.72 389.62,752.12 C388.79,754.52 388.11,757.12 387.75,759 C387.39,760.88 387.23,762.5 387.44,763.38 C387.65,764.26 388.43,764.52 389,764.31 C389.57,764.1 390.05,763.52 390.88,762.12 C391.71,760.72 392.65,758.27 394,755.88 C395.35,753.49 397.44,750.15 399,747.75 C400.56,745.35 402.23,742.75 403.38,741.5 C404.53,740.25 404.94,740.04 405.88,740.25 C406.82,740.46 408.58,741.71 409,742.75 C409.42,743.79 409.11,744.62 408.38,746.5 C407.65,748.38 406.08,751.4 404.62,754 C403.16,756.6 400.97,759.83 399.62,762.12 C398.27,764.41 396.92,766.55 396.5,767.75 C396.08,768.95 396.6,769.31 397.12,769.31 C397.64,769.31 398.47,769.15 399.62,767.75 C400.77,766.35 402.44,763.07 404,760.88 C405.56,758.69 407.44,756.34 409,754.62 C410.56,752.9 412.13,751.29 413.38,750.56 C414.63,749.83 415.72,749.88 416.5,750.25 C417.28,750.62 418.16,751.5 418.06,752.75 C417.96,754 417.08,755.88 415.88,757.75 C414.68,759.62 412.24,762.28 410.88,764 C409.52,765.72 408.79,766.81 407.75,768.06 C406.71,769.31 405.5,770.51 404.62,771.5 C403.74,772.49 402.75,773.06 402.44,774 C402.13,774.94 402.28,776.5 402.75,777.12 C403.22,777.75 403.69,778.06 405.25,777.75 C406.81,777.44 409.93,776.08 412.12,775.25 C414.31,774.42 416.61,773.32 418.38,772.75 C420.15,772.18 421.71,771.6 422.75,771.81 C423.79,772.02 424.62,773.12 424.62,774 C424.62,774.88 424.31,775.97 422.75,777.12 C421.19,778.27 418.06,779.73 415.25,780.88 C412.44,782.03 408.38,782.65 405.88,784 C403.38,785.35 401.92,787.33 400.25,789 C398.58,790.67 397.34,792.44 395.88,794 C394.42,795.56 393.06,797.13 391.5,798.38 C389.94,799.63 387.75,800.36 386.5,801.5 C385.25,802.64 384.57,804.17 384,805.25 C383.43,806.33 383.37,807.22 383.06,808 C382.75,808.78 383,809.48 382.12,809.94 C381.24,810.4 379.1,810.75 377.75,810.75 C376.4,810.75 375.04,810.4 374,809.94 C372.96,809.48 373.27,809.09 371.5,808Z" fill="#fff" stroke="#000" stroke-width="2.25"/>
<path d="M406.25,766.5 V792.5 M1125,760 V788.75" stroke-width="1.7"/>
<path d="M440,791.9 L454.4,799.4 M459.4,801.9 L463.75,803.9 M467.5,805.7 L471.25,807.5 M474.4,808.9 L478.75,810.8" stroke-width="1.5"/>
<path d="M421.9,784.2 L441,789.4 L438.4,795Z" fill="#000" stroke="none"/>
<path d="M1151.25,785.6 L1155,787.25 M1158.75,789.4 L1162.5,791 M1166.9,792.75 L1170.6,794.4 M1174.4,796 L1193,804" stroke-width="1.5"/>
<path d="M1210,810.9 L1189.4,806.4 L1191.6,800.2Z" fill="#000" stroke="none"/>
<path d="M462.5,971.9 L456.25,981.25 M482.75,971.25 V990.6 M503.1,971.9 L510,981.25" stroke-width="1.7"/>
<path d="M297.5,1005.5 L293.12,993 Q290.94,985.5 295,982.5 Q302.38,978.12 310,982.5 Q314.5,986.12 311.56,993 L307.5,1005.5" stroke-width="2.2"/>
<path d="M296.25,1005 L308.56,1005 L308.12,1011.88 Q302.5,1015.19 296.75,1011.88Z" fill="#000" stroke="none"/>
<path d="M302.5,967.69 L302.5,976.25 M289.5,971.62 L293.94,979.12 M315.5,971.62 L310.75,979.12 M280.94,983.12 L288.94,985.38 M323.88,983.12 L315.75,985.38" stroke-width="1.9"/>
<path d="M1000.62,1015.75 L999.06,1008.12 Q996.88,1003.12 995,998.75 Q992.19,990 998.75,985 Q1007.5,979.69 1015.62,985 Q1022.81,990 1019.69,1000 Q1016.88,1005.62 1015.62,1008.12 L1014.5,1015.75Z" fill="#858585" stroke="#222" stroke-width="0.8"/>
<path d="M1000,1015.62 L1015.12,1015.62 L1014.75,1022.5 Q1007.5,1026.25 1000.12,1022.5Z" fill="#000" stroke="none"/>
<text x="328.6" y="1021" font-size="25.5" font-family="Liberation Serif, Noto Serif CJK SC, serif" fill="#000" stroke="none">开</text>
<text x="1030.4" y="1017.6" font-size="26" font-family="Liberation Serif, Noto Serif CJK SC, serif" fill="#000" stroke="none">关</text>
</g>
</svg>
</body>
</html>
